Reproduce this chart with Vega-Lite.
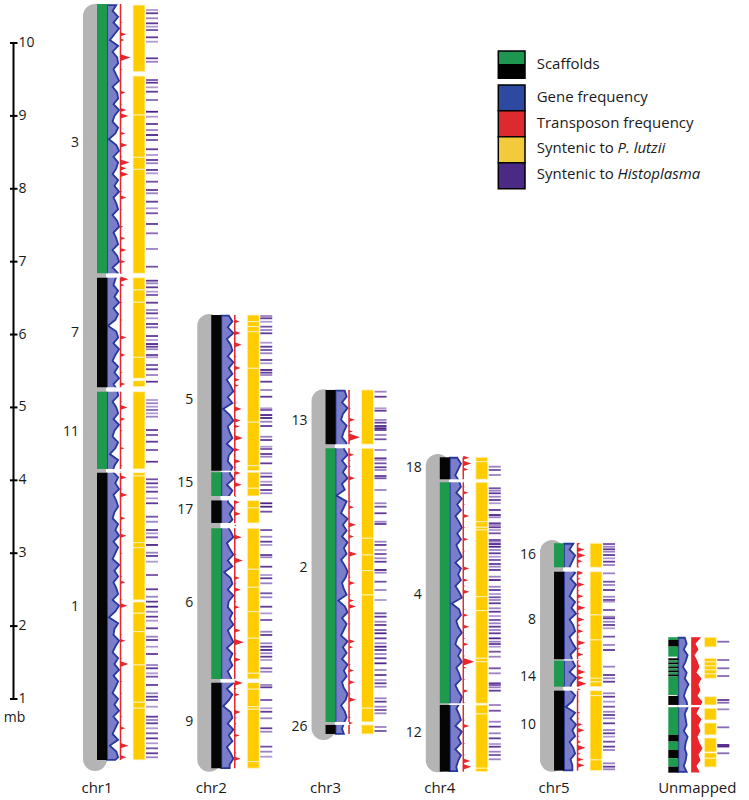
{
"$schema":"https://vega.github.io/schema/vega-lite/v6.json",
"width":749,"height":800,"padding":0,"autosize":"none","background":"white",
"config":{"view":{"stroke":null},"font":"Open Sans"},
"datasets":{
"gray":[{"c":"chr1","y":10.37,"y2":0.177},{"c":"chr2","y":6.117,"y2":0.167},{"c":"chr3","y":5.084,"y2":0.602},{"c":"chr4","y":4.197,"y2":0.159},{"c":"chr5","y":3.017,"y2":0.167}],
"scaf":[
{"c":"chr1","n":"3","y":10.535,"y2":6.84,"p":"A"},{"c":"chr1","n":"7","y":6.78,"y2":5.277,"p":"B"},{"c":"chr1","n":"11","y":5.216,"y2":4.156,"p":"A"},{"c":"chr1","n":"1","y":4.105,"y2":0.164,"p":"B"},
{"c":"chr2","n":"5","y":6.268,"y2":4.132,"p":"B"},{"c":"chr2","n":"15","y":4.111,"y2":3.785,"p":"A"},{"c":"chr2","n":"17","y":3.724,"y2":3.415,"p":"B"},{"c":"chr2","n":"6","y":3.342,"y2":1.275,"p":"A"},{"c":"chr2","n":"9","y":1.224,"y2":0.05,"p":"B"},
{"c":"chr3","n":"13","y":5.24,"y2":4.495,"p":"B"},{"c":"chr3","n":"2","y":4.44,"y2":0.685,"p":"A"},{"c":"chr3","n":"26","y":0.644,"y2":0.52,"p":"B"},
{"c":"chr4","n":"18","y":4.316,"y2":4.014,"p":"B"},{"c":"chr4","n":"4","y":3.973,"y2":0.941,"p":"A"},{"c":"chr4","n":"12","y":0.918,"y2":0.003,"p":"B"},
{"c":"chr5","n":"16","y":3.137,"y2":2.807,"p":"A"},{"c":"chr5","n":"8","y":2.747,"y2":1.545,"p":"B"},{"c":"chr5","n":"14","y":1.526,"y2":1.169,"p":"A"},{"c":"chr5","n":"10","y":1.114,"y2":0.017,"p":"B"},
{"c":"Unmapped","n":"u1","y":1.847,"y2":1.81,"p":"A"},{"c":"Unmapped","n":"u2","y":1.81,"y2":1.718,"p":"B"},{"c":"Unmapped","n":"u3","y":1.718,"y2":1.581,"p":"A"},{"c":"Unmapped","n":"u4","y":1.559,"y2":1.529,"p":"B"},{"c":"Unmapped","n":"u5","y":1.529,"y2":1.501,"p":"A"},{"c":"Unmapped","n":"u6","y":1.501,"y2":1.474,"p":"B"},{"c":"Unmapped","n":"u7","y":1.474,"y2":1.446,"p":"A"},{"c":"Unmapped","n":"u8","y":1.446,"y2":1.419,"p":"B"},{"c":"Unmapped","n":"u9","y":1.419,"y2":1.392,"p":"A"},{"c":"Unmapped","n":"u10","y":1.392,"y2":1.364,"p":"B"},{"c":"Unmapped","n":"u11","y":1.364,"y2":1.337,"p":"A"},{"c":"Unmapped","n":"u12","y":1.337,"y2":1.309,"p":"B"},{"c":"Unmapped","n":"u13","y":1.309,"y2":1.055,"p":"A"},{"c":"Unmapped","n":"u14","y":1.042,"y2":0.918,"p":"B"},{"c":"Unmapped","n":"u15","y":0.887,"y2":0.507,"p":"A"},{"c":"Unmapped","n":"u16","y":0.507,"y2":0.415,"p":"B"},{"c":"Unmapped","n":"u17","y":0.415,"y2":0.301,"p":"A"},{"c":"Unmapped","n":"u18","y":0.301,"y2":0.187,"p":"B"},{"c":"Unmapped","n":"u19","y":0.187,"y2":0.072,"p":"A"},{"c":"Unmapped","n":"u20","y":0.072,"y2":-0.011,"p":"B"}],
"labels":[
{"c":"chr1","n":"3","y":8.628},{"c":"chr1","n":"7","y":6.022},{"c":"chr1","n":"11","y":4.668},{"c":"chr1","n":"1","y":2.263},
{"c":"chr2","n":"5","y":5.102},{"c":"chr2","n":"15","y":3.964},{"c":"chr2","n":"17","y":3.593},{"c":"chr2","n":"6","y":2.311},{"c":"chr2","n":"9","y":0.685},
{"c":"chr3","n":"13","y":4.814},{"c":"chr3","n":"2","y":2.794},{"c":"chr3","n":"26","y":0.616},
{"c":"chr4","n":"18","y":4.165},{"c":"chr4","n":"4","y":2.427},{"c":"chr4","n":"12","y":0.53},
{"c":"chr5","n":"16","y":2.976},{"c":"chr5","n":"8","y":2.084},{"c":"chr5","n":"14","y":1.306},{"c":"chr5","n":"10","y":0.644}],
"gaps":[
{"c":"chr1","y":6.84,"y2":6.78},{"c":"chr1","y":5.277,"y2":5.216},{"c":"chr1","y":4.156,"y2":4.105},
{"c":"chr2","y":4.132,"y2":4.111},{"c":"chr2","y":3.785,"y2":3.724},{"c":"chr2","y":3.415,"y2":3.342},{"c":"chr2","y":1.275,"y2":1.224},
{"c":"chr3","y":4.495,"y2":4.44},{"c":"chr3","y":0.685,"y2":0.644},
{"c":"chr4","y":4.014,"y2":3.973},{"c":"chr4","y":0.941,"y2":0.918},
{"c":"chr5","y":2.807,"y2":2.747},{"c":"chr5","y":1.545,"y2":1.526},{"c":"chr5","y":1.169,"y2":1.114},
{"c":"Unmapped","y":0.918,"y2":0.887}],
"syn":[
{"c":"chr1","y":10.521,"y2":9.606},{"c":"chr1","y":9.547,"y2":9.012},{"c":"chr1","y":9.012,"y2":8.432},{"c":"chr1","y":8.432,"y2":8.267},{"c":"chr1","y":8.267,"y2":6.84},{"c":"chr1","y":6.78,"y2":6.612},{"c":"chr1","y":6.612,"y2":6.443},{"c":"chr1","y":6.443,"y2":5.688},{"c":"chr1","y":5.688,"y2":5.4},{"c":"chr1","y":5.367,"y2":5.285},{"c":"chr1","y":5.216,"y2":4.156},{"c":"chr1","y":4.105,"y2":4.06},{"c":"chr1","y":4.06,"y2":3.145},{"c":"chr1","y":3.145,"y2":3.076},{"c":"chr1","y":3.076,"y2":2.359},{"c":"chr1","y":2.331,"y2":2.176},{"c":"chr1","y":2.176,"y2":1.924},{"c":"chr1","y":1.924,"y2":1.467},{"c":"chr1","y":1.467,"y2":0.955},{"c":"chr1","y":0.955,"y2":0.873},{"c":"chr1","y":0.873,"y2":0.164},
{"c":"chr2","y":6.268,"y2":6.177},{"c":"chr2","y":6.177,"y2":6.108},{"c":"chr2","y":6.108,"y2":6.039},{"c":"chr2","y":6.039,"y2":5.537},{"c":"chr2","y":5.537,"y2":4.797},{"c":"chr2","y":4.797,"y2":4.201},{"c":"chr2","y":4.201,"y2":4.132},{"c":"chr2","y":4.111,"y2":3.891},{"c":"chr2","y":3.891,"y2":3.785},{"c":"chr2","y":3.724,"y2":3.621},{"c":"chr2","y":3.621,"y2":3.415},{"c":"chr2","y":3.342,"y2":2.78},{"c":"chr2","y":2.78,"y2":2.533},{"c":"chr2","y":2.533,"y2":2.198},{"c":"chr2","y":2.198,"y2":1.833},{"c":"chr2","y":1.833,"y2":1.353},{"c":"chr2","y":1.353,"y2":1.275},{"c":"chr2","y":1.224,"y2":1.134},{"c":"chr2","y":1.134,"y2":0.895},{"c":"chr2","y":0.895,"y2":0.859},{"c":"chr2","y":0.859,"y2":0.14},{"c":"chr2","y":0.14,"y2":0.05},
{"c":"chr3","y":5.24,"y2":4.495},{"c":"chr3","y":4.44,"y2":3.205},{"c":"chr3","y":3.205,"y2":2.976},{"c":"chr3","y":2.976,"y2":2.761},{"c":"chr3","y":2.761,"y2":2.427},{"c":"chr3","y":2.427,"y2":0.873},{"c":"chr3","y":0.873,"y2":0.685},{"c":"chr3","y":0.644,"y2":0.52},
{"c":"chr4","y":4.316,"y2":4.256},{"c":"chr4","y":4.256,"y2":4.014},{"c":"chr4","y":3.973,"y2":3.433},{"c":"chr4","y":3.433,"y2":3.356},{"c":"chr4","y":3.356,"y2":3.319},{"c":"chr4","y":3.319,"y2":2.404},{"c":"chr4","y":2.404,"y2":2.212},{"c":"chr4","y":2.212,"y2":1.559},{"c":"chr4","y":1.559,"y2":1.512},{"c":"chr4","y":1.512,"y2":0.941},{"c":"chr4","y":0.918,"y2":0.795},{"c":"chr4","y":0.795,"y2":0.05},{"c":"chr4","y":0.05,"y2":0.003},
{"c":"chr5","y":3.137,"y2":2.807},{"c":"chr5","y":2.747,"y2":2.153},{"c":"chr5","y":2.153,"y2":1.81},{"c":"chr5","y":1.81,"y2":1.284},{"c":"chr5","y":1.284,"y2":1.234},{"c":"chr5","y":1.234,"y2":1.169},{"c":"chr5","y":1.114,"y2":1.046},{"c":"chr5","y":1.046,"y2":0.164},{"c":"chr5","y":0.164,"y2":0.017},
{"c":"Unmapped","y":1.847,"y2":1.714},{"c":"Unmapped","y":1.559,"y2":1.508},{"c":"Unmapped","y":1.508,"y2":1.453},{"c":"Unmapped","y":1.453,"y2":1.398},{"c":"Unmapped","y":1.398,"y2":1.343},{"c":"Unmapped","y":1.343,"y2":1.284},{"c":"Unmapped","y":1.032,"y2":0.918},{"c":"Unmapped","y":0.873,"y2":0.712},{"c":"Unmapped","y":0.671,"y2":0.507},{"c":"Unmapped","y":0.465,"y2":0.273},{"c":"Unmapped","y":0.26,"y2":0.187},{"c":"Unmapped","y":0.187,"y2":0.067}],
"hist":[
{"c":"chr1","y":10.453,"s":0.5},{"c":"chr1","y":10.408,"s":0.9},{"c":"chr1","y":10.339,"s":0.6},{"c":"chr1","y":10.27,"s":0.9},{"c":"chr1","y":10.224,"s":0.5},{"c":"chr1","y":10.178,"s":0.8},{"c":"chr1","y":10.078,"s":0.9},{"c":"chr1","y":10.018,"s":0.5},{"c":"chr1","y":9.79,"s":0.9},{"c":"chr1","y":9.743,"s":0.6},{"c":"chr1","y":9.492,"s":0.8},{"c":"chr1","y":9.455,"s":0.9},{"c":"chr1","y":9.392,"s":0.5},{"c":"chr1","y":9.332,"s":0.9},{"c":"chr1","y":9.218,"s":0.7},{"c":"chr1","y":9.057,"s":1},{"c":"chr1","y":8.989,"s":0.5},{"c":"chr1","y":8.889,"s":0.9},{"c":"chr1","y":8.806,"s":0.6},{"c":"chr1","y":8.738,"s":1},{"c":"chr1","y":8.669,"s":0.8},{"c":"chr1","y":8.542,"s":0.9},{"c":"chr1","y":8.463,"s":0.5},{"c":"chr1","y":8.395,"s":0.9},{"c":"chr1","y":8.35,"s":0.6},{"c":"chr1","y":8.258,"s":0.9},{"c":"chr1","y":8.212,"s":0.5},{"c":"chr1","y":8.097,"s":0.8},{"c":"chr1","y":7.983,"s":0.9},{"c":"chr1","y":7.938,"s":0.6},{"c":"chr1","y":7.823,"s":0.9},{"c":"chr1","y":7.732,"s":0.5},{"c":"chr1","y":7.664,"s":0.8},{"c":"chr1","y":7.517,"s":0.9},{"c":"chr1","y":7.389,"s":0.7},{"c":"chr1","y":7.174,"s":0.6},{"c":"chr1","y":6.931,"s":0.8},{"c":"chr1","y":6.739,"s":0.9},{"c":"chr1","y":6.703,"s":0.6},{"c":"chr1","y":6.648,"s":0.9},{"c":"chr1","y":6.588,"s":0.5},{"c":"chr1","y":6.543,"s":0.8},{"c":"chr1","y":6.437,"s":0.9},{"c":"chr1","y":6.337,"s":0.6},{"c":"chr1","y":6.291,"s":0.9},{"c":"chr1","y":6.223,"s":0.5},{"c":"chr1","y":6.145,"s":0.9},{"c":"chr1","y":6.099,"s":0.7},{"c":"chr1","y":5.98,"s":0.9},{"c":"chr1","y":5.925,"s":0.5},{"c":"chr1","y":5.87,"s":1},{"c":"chr1","y":5.833,"s":0.9},{"c":"chr1","y":5.798,"s":0.6},{"c":"chr1","y":5.719,"s":0.9},{"c":"chr1","y":5.688,"s":0.5},{"c":"chr1","y":5.582,"s":0.8},{"c":"chr1","y":5.523,"s":0.9},{"c":"chr1","y":5.445,"s":0.6},{"c":"chr1","y":5.353,"s":0.9},{"c":"chr1","y":5.102,"s":0.5},{"c":"chr1","y":5.057,"s":0.6},{"c":"chr1","y":5.01,"s":0.5},{"c":"chr1","y":4.965,"s":0.7},{"c":"chr1","y":4.919,"s":0.5},{"c":"chr1","y":4.873,"s":0.6},{"c":"chr1","y":4.69,"s":0.9},{"c":"chr1","y":4.622,"s":0.8},{"c":"chr1","y":4.53,"s":0.9},{"c":"chr1","y":4.416,"s":0.8},{"c":"chr1","y":4.255,"s":0.9},{"c":"chr1","y":4.014,"s":0.8},{"c":"chr1","y":3.959,"s":0.9},{"c":"chr1","y":3.904,"s":0.6},{"c":"chr1","y":3.844,"s":0.9},{"c":"chr1","y":3.753,"s":0.5},{"c":"chr1","y":3.685,"s":0.9},{"c":"chr1","y":3.501,"s":0.8},{"c":"chr1","y":3.432,"s":0.6},{"c":"chr1","y":3.318,"s":0.9},{"c":"chr1","y":3.273,"s":0.5},{"c":"chr1","y":3.218,"s":0.8},{"c":"chr1","y":3.113,"s":1},{"c":"chr1","y":3.007,"s":0.6},{"c":"chr1","y":2.962,"s":0.9},{"c":"chr1","y":2.884,"s":0.5},{"c":"chr1","y":2.701,"s":0.8},{"c":"chr1","y":2.505,"s":0.9},{"c":"chr1","y":2.403,"s":0.6},{"c":"chr1","y":2.335,"s":0.9},{"c":"chr1","y":2.266,"s":1},{"c":"chr1","y":2.197,"s":0.6},{"c":"chr1","y":2.129,"s":0.9},{"c":"chr1","y":2.074,"s":0.5},{"c":"chr1","y":1.97,"s":0.9},{"c":"chr1","y":1.855,"s":0.6},{"c":"chr1","y":1.809,"s":0.9},{"c":"chr1","y":1.717,"s":0.5},{"c":"chr1","y":1.617,"s":0.9},{"c":"chr1","y":1.466,"s":0.6},{"c":"chr1","y":1.421,"s":0.9},{"c":"chr1","y":1.352,"s":0.5},{"c":"chr1","y":1.306,"s":0.8},{"c":"chr1","y":1.192,"s":0.9},{"c":"chr1","y":1.078,"s":0.6},{"c":"chr1","y":1.031,"s":0.9},{"c":"chr1","y":0.986,"s":0.8},{"c":"chr1","y":0.894,"s":0.5},{"c":"chr1","y":0.757,"s":0.9},{"c":"chr1","y":0.712,"s":0.6},{"c":"chr1","y":0.666,"s":0.9},{"c":"chr1","y":0.598,"s":0.5},{"c":"chr1","y":0.529,"s":0.8},{"c":"chr1","y":0.46,"s":0.9},{"c":"chr1","y":0.392,"s":0.5},{"c":"chr1","y":0.323,"s":0.8},{"c":"chr1","y":0.255,"s":0.9},{"c":"chr1","y":0.2,"s":0.6},
{"c":"chr2","y":6.254,"s":0.6},{"c":"chr2","y":6.223,"s":0.9},{"c":"chr2","y":6.176,"s":0.5},{"c":"chr2","y":6.108,"s":0.8},{"c":"chr2","y":6.062,"s":0.6},{"c":"chr2","y":6.017,"s":0.9},{"c":"chr2","y":5.888,"s":0.5},{"c":"chr2","y":5.833,"s":0.9},{"c":"chr2","y":5.788,"s":0.8},{"c":"chr2","y":5.743,"s":0.6},{"c":"chr2","y":5.651,"s":0.9},{"c":"chr2","y":5.605,"s":0.5},{"c":"chr2","y":5.514,"s":1},{"c":"chr2","y":5.477,"s":0.9},{"c":"chr2","y":5.445,"s":0.6},{"c":"chr2","y":5.353,"s":0.9},{"c":"chr2","y":5.239,"s":0.6},{"c":"chr2","y":5.147,"s":0.9},{"c":"chr2","y":4.988,"s":0.5},{"c":"chr2","y":4.965,"s":0.8},{"c":"chr2","y":4.896,"s":1},{"c":"chr2","y":4.855,"s":1},{"c":"chr2","y":4.804,"s":0.6},{"c":"chr2","y":4.745,"s":0.9},{"c":"chr2","y":4.598,"s":0.6},{"c":"chr2","y":4.553,"s":0.9},{"c":"chr2","y":4.461,"s":0.5},{"c":"chr2","y":4.43,"s":0.8},{"c":"chr2","y":4.361,"s":0.9},{"c":"chr2","y":4.324,"s":0.6},{"c":"chr2","y":4.233,"s":0.9},{"c":"chr2","y":4.096,"s":0.6},{"c":"chr2","y":4.05,"s":0.9},{"c":"chr2","y":3.981,"s":0.5},{"c":"chr2","y":3.936,"s":0.8},{"c":"chr2","y":3.867,"s":0.9},{"c":"chr2","y":3.822,"s":0.6},{"c":"chr2","y":3.685,"s":1},{"c":"chr2","y":3.638,"s":1},{"c":"chr2","y":3.57,"s":0.8},{"c":"chr2","y":3.318,"s":0.8},{"c":"chr2","y":3.226,"s":0.6},{"c":"chr2","y":3.158,"s":0.9},{"c":"chr2","y":3.113,"s":0.5},{"c":"chr2","y":2.975,"s":0.9},{"c":"chr2","y":2.944,"s":0.6},{"c":"chr2","y":2.815,"s":0.9},{"c":"chr2","y":2.701,"s":0.5},{"c":"chr2","y":2.656,"s":0.9},{"c":"chr2","y":2.587,"s":0.6},{"c":"chr2","y":2.45,"s":0.8},{"c":"chr2","y":2.395,"s":0.6},{"c":"chr2","y":2.266,"s":0.9},{"c":"chr2","y":2.175,"s":0.5},{"c":"chr2","y":2.084,"s":0.8},{"c":"chr2","y":1.923,"s":0.6},{"c":"chr2","y":1.878,"s":0.9},{"c":"chr2","y":1.764,"s":0.6},{"c":"chr2","y":1.717,"s":0.9},{"c":"chr2","y":1.672,"s":1},{"c":"chr2","y":1.627,"s":0.6},{"c":"chr2","y":1.58,"s":0.9},{"c":"chr2","y":1.535,"s":0.5},{"c":"chr2","y":1.421,"s":0.8},{"c":"chr2","y":1.374,"s":0.6},{"c":"chr2","y":1.192,"s":0.6},{"c":"chr2","y":1.16,"s":0.9},{"c":"chr2","y":0.986,"s":0.8},{"c":"chr2","y":0.872,"s":0.5},{"c":"chr2","y":0.825,"s":0.9},{"c":"chr2","y":0.735,"s":0.6},{"c":"chr2","y":0.598,"s":0.9},{"c":"chr2","y":0.551,"s":0.6},{"c":"chr2","y":0.346,"s":0.8},{"c":"chr2","y":0.277,"s":0.6},{"c":"chr2","y":0.208,"s":0.5},
{"c":"chr3","y":5.216,"s":0.6},{"c":"chr3","y":5.147,"s":0.9},{"c":"chr3","y":4.988,"s":0.5},{"c":"chr3","y":4.955,"s":0.9},{"c":"chr3","y":4.828,"s":0.6},{"c":"chr3","y":4.791,"s":0.9},{"c":"chr3","y":4.745,"s":1},{"c":"chr3","y":4.714,"s":1},{"c":"chr3","y":4.69,"s":0.9},{"c":"chr3","y":4.622,"s":0.6},{"c":"chr3","y":4.563,"s":0.8},{"c":"chr3","y":4.416,"s":0.6},{"c":"chr3","y":4.302,"s":0.9},{"c":"chr3","y":4.279,"s":0.5},{"c":"chr3","y":4.233,"s":0.8},{"c":"chr3","y":4.179,"s":0.9},{"c":"chr3","y":4.142,"s":0.6},{"c":"chr3","y":4.059,"s":0.9},{"c":"chr3","y":4.028,"s":0.8},{"c":"chr3","y":3.867,"s":0.6},{"c":"chr3","y":3.685,"s":0.6},{"c":"chr3","y":3.638,"s":0.8},{"c":"chr3","y":3.548,"s":0.9},{"c":"chr3","y":3.432,"s":0.6},{"c":"chr3","y":3.401,"s":0.9},{"c":"chr3","y":3.158,"s":0.6},{"c":"chr3","y":3.113,"s":0.9},{"c":"chr3","y":3.044,"s":0.5},{"c":"chr3","y":2.989,"s":0.8},{"c":"chr3","y":2.93,"s":0.6},{"c":"chr3","y":2.883,"s":0.9},{"c":"chr3","y":2.77,"s":1},{"c":"chr3","y":2.733,"s":0.6},{"c":"chr3","y":2.609,"s":0.8},{"c":"chr3","y":2.495,"s":0.6},{"c":"chr3","y":2.358,"s":0.5},{"c":"chr3","y":2.175,"s":0.8},{"c":"chr3","y":2.129,"s":0.9},{"c":"chr3","y":2.06,"s":0.6},{"c":"chr3","y":2.015,"s":0.9},{"c":"chr3","y":1.946,"s":0.8},{"c":"chr3","y":1.901,"s":1},{"c":"chr3","y":1.832,"s":0.9},{"c":"chr3","y":1.764,"s":0.6},{"c":"chr3","y":1.717,"s":1},{"c":"chr3","y":1.672,"s":0.9},{"c":"chr3","y":1.617,"s":0.6},{"c":"chr3","y":1.558,"s":0.9},{"c":"chr3","y":1.489,"s":1},{"c":"chr3","y":1.398,"s":0.6},{"c":"chr3","y":1.329,"s":0.9},{"c":"chr3","y":1.26,"s":0.5},{"c":"chr3","y":1.215,"s":0.9},{"c":"chr3","y":1.168,"s":0.6},{"c":"chr3","y":1.009,"s":0.6},{"c":"chr3","y":0.963,"s":0.9},{"c":"chr3","y":0.894,"s":0.6},{"c":"chr3","y":0.849,"s":0.8},{"c":"chr3","y":0.803,"s":0.6},{"c":"chr3","y":0.616,"s":0.6},{"c":"chr3","y":0.561,"s":0.8},
{"c":"chr4","y":4.187,"s":0.6},{"c":"chr4","y":4.142,"s":0.8},{"c":"chr4","y":4.073,"s":0.6},{"c":"chr4","y":3.891,"s":0.8},{"c":"chr4","y":3.858,"s":0.6},{"c":"chr4","y":3.822,"s":0.9},{"c":"chr4","y":3.775,"s":0.6},{"c":"chr4","y":3.73,"s":0.9},{"c":"chr4","y":3.685,"s":0.5},{"c":"chr4","y":3.593,"s":0.9},{"c":"chr4","y":3.524,"s":1},{"c":"chr4","y":3.493,"s":0.6},{"c":"chr4","y":3.41,"s":0.9},{"c":"chr4","y":3.387,"s":0.6},{"c":"chr4","y":3.356,"s":0.9},{"c":"chr4","y":3.318,"s":0.5},{"c":"chr4","y":3.273,"s":0.8},{"c":"chr4","y":3.181,"s":0.9},{"c":"chr4","y":3.158,"s":0.6},{"c":"chr4","y":3.126,"s":1},{"c":"chr4","y":3.089,"s":1},{"c":"chr4","y":3.044,"s":0.6},{"c":"chr4","y":2.999,"s":0.9},{"c":"chr4","y":2.952,"s":0.5},{"c":"chr4","y":2.907,"s":0.8},{"c":"chr4","y":2.852,"s":0.9},{"c":"chr4","y":2.815,"s":0.6},{"c":"chr4","y":2.77,"s":0.9},{"c":"chr4","y":2.678,"s":0.6},{"c":"chr4","y":2.632,"s":1},{"c":"chr4","y":2.54,"s":0.6},{"c":"chr4","y":2.495,"s":0.9},{"c":"chr4","y":2.44,"s":0.5},{"c":"chr4","y":2.395,"s":0.8},{"c":"chr4","y":2.358,"s":0.6},{"c":"chr4","y":2.313,"s":0.9},{"c":"chr4","y":2.244,"s":0.6},{"c":"chr4","y":2.197,"s":0.9},{"c":"chr4","y":2.138,"s":0.5},{"c":"chr4","y":2.084,"s":0.8},{"c":"chr4","y":2.038,"s":0.6},{"c":"chr4","y":1.992,"s":0.9},{"c":"chr4","y":1.946,"s":0.6},{"c":"chr4","y":1.901,"s":0.9},{"c":"chr4","y":1.832,"s":1},{"c":"chr4","y":1.786,"s":0.6},{"c":"chr4","y":1.754,"s":0.9},{"c":"chr4","y":1.717,"s":0.5},{"c":"chr4","y":1.649,"s":0.8},{"c":"chr4","y":1.58,"s":0.6},{"c":"chr4","y":1.421,"s":0.8},{"c":"chr4","y":1.352,"s":0.6},{"c":"chr4","y":1.215,"s":0.9},{"c":"chr4","y":1.192,"s":0.8},{"c":"chr4","y":1.16,"s":0.6},{"c":"chr4","y":1.114,"s":0.9},{"c":"chr4","y":0.917,"s":0.6},{"c":"chr4","y":0.839,"s":0.8},{"c":"chr4","y":0.688,"s":0.6},{"c":"chr4","y":0.62,"s":0.9},{"c":"chr4","y":0.529,"s":0.6},{"c":"chr4","y":0.46,"s":0.9},{"c":"chr4","y":0.382,"s":0.5},{"c":"chr4","y":0.345,"s":0.9},{"c":"chr4","y":0.277,"s":0.6},{"c":"chr4","y":0.231,"s":0.8},{"c":"chr4","y":0.172,"s":0.6},
{"c":"chr5","y":3.126,"s":0.8},{"c":"chr5","y":3.089,"s":0.6},{"c":"chr5","y":3.054,"s":0.9},{"c":"chr5","y":3.021,"s":0.6},{"c":"chr5","y":2.975,"s":0.9},{"c":"chr5","y":2.93,"s":0.5},{"c":"chr5","y":2.884,"s":0.9},{"c":"chr5","y":2.838,"s":0.6},{"c":"chr5","y":2.724,"s":0.6},{"c":"chr5","y":2.609,"s":0.8},{"c":"chr5","y":2.564,"s":0.6},{"c":"chr5","y":2.495,"s":0.9},{"c":"chr5","y":2.403,"s":0.6},{"c":"chr5","y":2.358,"s":0.9},{"c":"chr5","y":2.335,"s":0.5},{"c":"chr5","y":2.221,"s":0.8},{"c":"chr5","y":2.129,"s":0.6},{"c":"chr5","y":2.107,"s":0.9},{"c":"chr5","y":2.06,"s":0.6},{"c":"chr5","y":2.015,"s":0.9},{"c":"chr5","y":1.97,"s":0.5},{"c":"chr5","y":1.855,"s":0.8},{"c":"chr5","y":1.741,"s":0.6},{"c":"chr5","y":1.672,"s":0.9},{"c":"chr5","y":1.443,"s":0.6},{"c":"chr5","y":1.329,"s":0.9},{"c":"chr5","y":1.284,"s":0.6},{"c":"chr5","y":1.237,"s":0.9},{"c":"chr5","y":1.078,"s":0.6},{"c":"chr5","y":1.031,"s":0.9},{"c":"chr5","y":0.963,"s":0.5},{"c":"chr5","y":0.894,"s":0.8},{"c":"chr5","y":0.825,"s":0.6},{"c":"chr5","y":0.78,"s":0.9},{"c":"chr5","y":0.735,"s":0.6},{"c":"chr5","y":0.666,"s":0.9},{"c":"chr5","y":0.574,"s":0.6},{"c":"chr5","y":0.529,"s":0.9},{"c":"chr5","y":0.483,"s":0.5},{"c":"chr5","y":0.414,"s":0.8},{"c":"chr5","y":0.346,"s":0.9},{"c":"chr5","y":0.3,"s":0.6},{"c":"chr5","y":0.117,"s":0.6},{"c":"chr5","y":0.071,"s":0.9},{"c":"chr5","y":0.035,"s":0.6},
{"c":"Unmapped","y":1.786,"s":0.7},{"c":"Unmapped","y":1.535,"s":0.7},{"c":"Unmapped","y":1.421,"s":0.7},{"c":"Unmapped","y":1.315,"s":0.7},{"c":"Unmapped","y":0.986,"s":0.9},{"c":"Unmapped","y":0.949,"s":0.7},{"c":"Unmapped","y":0.858,"s":0.6},{"c":"Unmapped","y":0.611,"s":0.7},{"c":"Unmapped","y":0.369,"s":1},{"c":"Unmapped","y":0.348,"s":1},{"c":"Unmapped","y":0.255,"s":0.7}],
"freq":[
{"c":"chr1","y":10.52,"g":10,"t":1},{"c":"chr1","y":10.44,"g":6,"t":0},{"c":"chr1","y":10.36,"g":12,"t":1},{"c":"chr1","y":10.28,"g":7,"t":2},{"c":"chr1","y":10.2,"g":13,"t":0},{"c":"chr1","y":10.12,"g":8,"t":6},{"c":"chr1","y":10.04,"g":3,"t":4},{"c":"chr1","y":9.96,"g":12,"t":1},{"c":"chr1","y":9.88,"g":6,"t":0},{"c":"chr1","y":9.8,"g":11,"t":10},
{"c":"chr1","y":9.72,"g":12,"t":1},{"c":"chr1","y":9.64,"g":7,"t":2},{"c":"chr1","y":9.56,"g":10,"t":1},{"c":"chr1","y":9.48,"g":13,"t":0},{"c":"chr1","y":9.4,"g":6,"t":1},{"c":"chr1","y":9.32,"g":11,"t":5},{"c":"chr1","y":9.24,"g":12,"t":0},{"c":"chr1","y":9.16,"g":7,"t":2},{"c":"chr1","y":9.08,"g":13,"t":6},{"c":"chr1","y":9.0,"g":8,"t":8},
{"c":"chr1","y":8.92,"g":6,"t":0},{"c":"chr1","y":8.84,"g":12,"t":1},{"c":"chr1","y":8.76,"g":9,"t":5},{"c":"chr1","y":8.68,"g":2,"t":1},{"c":"chr1","y":8.6,"g":10,"t":7},{"c":"chr1","y":8.52,"g":13,"t":0},{"c":"chr1","y":8.44,"g":7,"t":2},{"c":"chr1","y":8.36,"g":12,"t":9},{"c":"chr1","y":8.28,"g":10,"t":6},{"c":"chr1","y":8.2,"g":6,"t":8},
{"c":"chr1","y":8.12,"g":12,"t":1},{"c":"chr1","y":8.04,"g":8,"t":0},{"c":"chr1","y":7.96,"g":13,"t":2},{"c":"chr1","y":7.88,"g":7,"t":6},{"c":"chr1","y":7.8,"g":10,"t":1},{"c":"chr1","y":7.72,"g":12,"t":2},{"c":"chr1","y":7.64,"g":6,"t":0},{"c":"chr1","y":7.56,"g":11,"t":1},{"c":"chr1","y":7.48,"g":13,"t":3},{"c":"chr1","y":7.4,"g":7,"t":0},
{"c":"chr1","y":7.32,"g":10,"t":5},{"c":"chr1","y":7.24,"g":12,"t":1},{"c":"chr1","y":7.16,"g":6,"t":6},{"c":"chr1","y":7.08,"g":11,"t":0},{"c":"chr1","y":7.0,"g":13,"t":5},{"c":"chr1","y":6.92,"g":6,"t":1},{"c":"chr1","y":6.84,"g":12,"t":2},{"c":"chr1","y":6.76,"g":9,"t":8},{"c":"chr1","y":6.68,"g":7,"t":4},{"c":"chr1","y":6.6,"g":12,"t":0},
{"c":"chr1","y":6.52,"g":8,"t":1},{"c":"chr1","y":6.44,"g":13,"t":2},{"c":"chr1","y":6.36,"g":7,"t":1},{"c":"chr1","y":6.28,"g":12,"t":0},{"c":"chr1","y":6.2,"g":9,"t":2},{"c":"chr1","y":6.12,"g":1,"t":1},{"c":"chr1","y":6.04,"g":10,"t":0},{"c":"chr1","y":5.96,"g":12,"t":6},{"c":"chr1","y":5.88,"g":7,"t":1},{"c":"chr1","y":5.8,"g":13,"t":0},
{"c":"chr1","y":5.72,"g":9,"t":5},{"c":"chr1","y":5.64,"g":6,"t":1},{"c":"chr1","y":5.56,"g":12,"t":0},{"c":"chr1","y":5.48,"g":8,"t":2},{"c":"chr1","y":5.4,"g":13,"t":1},{"c":"chr1","y":5.32,"g":7,"t":5},{"c":"chr1","y":5.24,"g":11,"t":0},{"c":"chr1","y":5.16,"g":12,"t":1},{"c":"chr1","y":5.08,"g":6,"t":2},{"c":"chr1","y":5.0,"g":10,"t":7},
{"c":"chr1","y":4.92,"g":12,"t":0},{"c":"chr1","y":4.84,"g":7,"t":5},{"c":"chr1","y":4.76,"g":13,"t":1},{"c":"chr1","y":4.68,"g":8,"t":2},{"c":"chr1","y":4.6,"g":6,"t":0},{"c":"chr1","y":4.52,"g":12,"t":1},{"c":"chr1","y":4.44,"g":9,"t":4},{"c":"chr1","y":4.36,"g":3,"t":0},{"c":"chr1","y":4.28,"g":12,"t":1},{"c":"chr1","y":4.2,"g":8,"t":2},
{"c":"chr1","y":4.12,"g":6,"t":1},{"c":"chr1","y":4.04,"g":12,"t":6},{"c":"chr1","y":3.96,"g":9,"t":0},{"c":"chr1","y":3.88,"g":13,"t":2},{"c":"chr1","y":3.8,"g":7,"t":7},{"c":"chr1","y":3.72,"g":10,"t":1},{"c":"chr1","y":3.64,"g":12,"t":0},{"c":"chr1","y":3.56,"g":8,"t":1},{"c":"chr1","y":3.48,"g":6,"t":5},{"c":"chr1","y":3.4,"g":12,"t":0},
{"c":"chr1","y":3.32,"g":9,"t":2},{"c":"chr1","y":3.24,"g":13,"t":6},{"c":"chr1","y":3.16,"g":7,"t":1},{"c":"chr1","y":3.08,"g":12,"t":0},{"c":"chr1","y":3.0,"g":9,"t":2},{"c":"chr1","y":2.92,"g":6,"t":1},{"c":"chr1","y":2.84,"g":13,"t":0},{"c":"chr1","y":2.76,"g":8,"t":1},{"c":"chr1","y":2.68,"g":12,"t":2},{"c":"chr1","y":2.6,"g":7,"t":5},
{"c":"chr1","y":2.52,"g":10,"t":0},{"c":"chr1","y":2.44,"g":12,"t":1},{"c":"chr1","y":2.36,"g":6,"t":2},{"c":"chr1","y":2.28,"g":13,"t":7},{"c":"chr1","y":2.2,"g":9,"t":0},{"c":"chr1","y":2.12,"g":2,"t":1},{"c":"chr1","y":2.04,"g":12,"t":1},{"c":"chr1","y":1.96,"g":8,"t":0},{"c":"chr1","y":1.88,"g":7,"t":2},{"c":"chr1","y":1.8,"g":13,"t":5},
{"c":"chr1","y":1.72,"g":9,"t":1},{"c":"chr1","y":1.64,"g":6,"t":0},{"c":"chr1","y":1.56,"g":12,"t":2},{"c":"chr1","y":1.48,"g":8,"t":8},{"c":"chr1","y":1.4,"g":13,"t":0},{"c":"chr1","y":1.32,"g":7,"t":1},{"c":"chr1","y":1.24,"g":12,"t":2},{"c":"chr1","y":1.16,"g":9,"t":0},{"c":"chr1","y":1.08,"g":6,"t":2},{"c":"chr1","y":1.0,"g":12,"t":1},
{"c":"chr1","y":0.92,"g":8,"t":0},{"c":"chr1","y":0.84,"g":13,"t":1},{"c":"chr1","y":0.76,"g":7,"t":2},{"c":"chr1","y":0.68,"g":12,"t":1},{"c":"chr1","y":0.6,"g":9,"t":5},{"c":"chr1","y":0.52,"g":6,"t":0},{"c":"chr1","y":0.44,"g":12,"t":1},{"c":"chr1","y":0.36,"g":3,"t":8},{"c":"chr1","y":0.28,"g":10,"t":1},{"c":"chr1","y":0.2,"g":12,"t":6},{"c":"chr1","y":0.164,"g":9,"t":0},
{"c":"chr2","y":6.26,"g":8,"t":1},{"c":"chr2","y":6.18,"g":12,"t":5},{"c":"chr2","y":6.1,"g":7,"t":0},{"c":"chr2","y":6.02,"g":13,"t":6},{"c":"chr2","y":5.94,"g":6,"t":1},{"c":"chr2","y":5.86,"g":10,"t":7},{"c":"chr2","y":5.78,"g":12,"t":0},{"c":"chr2","y":5.7,"g":7,"t":2},{"c":"chr2","y":5.62,"g":13,"t":1},{"c":"chr2","y":5.54,"g":8,"t":6},
{"c":"chr2","y":5.46,"g":12,"t":0},{"c":"chr2","y":5.38,"g":6,"t":5},{"c":"chr2","y":5.3,"g":10,"t":4},{"c":"chr2","y":5.22,"g":13,"t":1},{"c":"chr2","y":5.14,"g":7,"t":1},{"c":"chr2","y":5.06,"g":12,"t":2},{"c":"chr2","y":4.98,"g":2,"t":7},{"c":"chr2","y":4.9,"g":9,"t":0},{"c":"chr2","y":4.82,"g":13,"t":6},{"c":"chr2","y":4.74,"g":7,"t":5},
{"c":"chr2","y":4.66,"g":9,"t":1},{"c":"chr2","y":4.58,"g":12,"t":8},{"c":"chr2","y":4.5,"g":6,"t":0},{"c":"chr2","y":4.42,"g":13,"t":5},{"c":"chr2","y":4.34,"g":8,"t":1},{"c":"chr2","y":4.26,"g":7,"t":6},{"c":"chr2","y":4.18,"g":12,"t":2},{"c":"chr2","y":4.1,"g":9,"t":6},{"c":"chr2","y":4.02,"g":13,"t":0},{"c":"chr2","y":3.94,"g":6,"t":7},
{"c":"chr2","y":3.86,"g":12,"t":1},{"c":"chr2","y":3.78,"g":8,"t":2},{"c":"chr2","y":3.7,"g":7,"t":5},{"c":"chr2","y":3.62,"g":13,"t":0},{"c":"chr2","y":3.54,"g":9,"t":6},{"c":"chr2","y":3.46,"g":12,"t":1},{"c":"chr2","y":3.38,"g":6,"t":2},{"c":"chr2","y":3.3,"g":10,"t":0},{"c":"chr2","y":3.22,"g":13,"t":7},{"c":"chr2","y":3.14,"g":6,"t":1},
{"c":"chr2","y":3.06,"g":9,"t":1},{"c":"chr2","y":2.98,"g":13,"t":2},{"c":"chr2","y":2.9,"g":7,"t":8},{"c":"chr2","y":2.82,"g":12,"t":1},{"c":"chr2","y":2.74,"g":3,"t":0},{"c":"chr2","y":2.66,"g":10,"t":5},{"c":"chr2","y":2.58,"g":12,"t":2},{"c":"chr2","y":2.5,"g":7,"t":6},{"c":"chr2","y":2.42,"g":13,"t":1},{"c":"chr2","y":2.34,"g":8,"t":2},
{"c":"chr2","y":2.26,"g":7,"t":5},{"c":"chr2","y":2.18,"g":12,"t":1},{"c":"chr2","y":2.1,"g":9,"t":2},{"c":"chr2","y":2.02,"g":13,"t":0},{"c":"chr2","y":1.94,"g":7,"t":6},{"c":"chr2","y":1.86,"g":10,"t":1},{"c":"chr2","y":1.78,"g":13,"t":9},{"c":"chr2","y":1.7,"g":6,"t":0},{"c":"chr2","y":1.62,"g":12,"t":2},{"c":"chr2","y":1.54,"g":9,"t":6},
{"c":"chr2","y":1.46,"g":12,"t":1},{"c":"chr2","y":1.38,"g":7,"t":1},{"c":"chr2","y":1.3,"g":10,"t":0},{"c":"chr2","y":1.22,"g":13,"t":8},{"c":"chr2","y":1.14,"g":6,"t":2},{"c":"chr2","y":1.06,"g":12,"t":5},{"c":"chr2","y":0.98,"g":8,"t":1},{"c":"chr2","y":0.9,"g":2,"t":0},{"c":"chr2","y":0.82,"g":10,"t":6},{"c":"chr2","y":0.74,"g":12,"t":2},
{"c":"chr2","y":0.66,"g":7,"t":2},{"c":"chr2","y":0.58,"g":13,"t":1},{"c":"chr2","y":0.5,"g":8,"t":5},{"c":"chr2","y":0.42,"g":12,"t":0},{"c":"chr2","y":0.34,"g":6,"t":1},{"c":"chr2","y":0.26,"g":10,"t":2},{"c":"chr2","y":0.18,"g":13,"t":6},{"c":"chr2","y":0.1,"g":9,"t":1},{"c":"chr2","y":0.05,"g":9,"t":0},
{"c":"chr3","y":5.23,"g":10,"t":1},{"c":"chr3","y":5.15,"g":12,"t":0},{"c":"chr3","y":5.07,"g":7,"t":1},{"c":"chr3","y":4.99,"g":13,"t":2},{"c":"chr3","y":4.91,"g":8,"t":0},{"c":"chr3","y":4.83,"g":6,"t":6},{"c":"chr3","y":4.75,"g":12,"t":1},{"c":"chr3","y":4.67,"g":9,"t":4},{"c":"chr3","y":4.59,"g":7,"t":11},{"c":"chr3","y":4.51,"g":12,"t":0},
{"c":"chr3","y":4.43,"g":9,"t":1},{"c":"chr3","y":4.35,"g":13,"t":5},{"c":"chr3","y":4.27,"g":7,"t":2},{"c":"chr3","y":4.19,"g":12,"t":2},{"c":"chr3","y":4.11,"g":8,"t":0},{"c":"chr3","y":4.03,"g":13,"t":6},{"c":"chr3","y":3.95,"g":7,"t":1},{"c":"chr3","y":3.87,"g":10,"t":0},{"c":"chr3","y":3.79,"g":1,"t":1},{"c":"chr3","y":3.71,"g":12,"t":2},
{"c":"chr3","y":3.63,"g":9,"t":5},{"c":"chr3","y":3.55,"g":6,"t":0},{"c":"chr3","y":3.47,"g":13,"t":1},{"c":"chr3","y":3.39,"g":8,"t":7},{"c":"chr3","y":3.31,"g":12,"t":2},{"c":"chr3","y":3.23,"g":7,"t":5},{"c":"chr3","y":3.15,"g":13,"t":0},{"c":"chr3","y":3.07,"g":9,"t":1},{"c":"chr3","y":2.99,"g":12,"t":8},{"c":"chr3","y":2.91,"g":6,"t":1},
{"c":"chr3","y":2.83,"g":10,"t":1},{"c":"chr3","y":2.75,"g":13,"t":0},{"c":"chr3","y":2.67,"g":11,"t":2},{"c":"chr3","y":2.59,"g":7,"t":6},{"c":"chr3","y":2.51,"g":9,"t":1},{"c":"chr3","y":2.43,"g":12,"t":2},{"c":"chr3","y":2.35,"g":3,"t":5},{"c":"chr3","y":2.27,"g":10,"t":7},{"c":"chr3","y":2.19,"g":13,"t":0},{"c":"chr3","y":2.11,"g":7,"t":1},
{"c":"chr3","y":2.03,"g":12,"t":2},{"c":"chr3","y":1.95,"g":9,"t":1},{"c":"chr3","y":1.87,"g":6,"t":0},{"c":"chr3","y":1.79,"g":13,"t":6},{"c":"chr3","y":1.71,"g":8,"t":4},{"c":"chr3","y":1.63,"g":12,"t":1},{"c":"chr3","y":1.55,"g":7,"t":1},{"c":"chr3","y":1.47,"g":13,"t":2},{"c":"chr3","y":1.39,"g":9,"t":5},{"c":"chr3","y":1.31,"g":12,"t":0},
{"c":"chr3","y":1.23,"g":7,"t":6},{"c":"chr3","y":1.15,"g":9,"t":1},{"c":"chr3","y":1.07,"g":13,"t":2},{"c":"chr3","y":0.99,"g":11,"t":7},{"c":"chr3","y":0.91,"g":6,"t":1},{"c":"chr3","y":0.83,"g":10,"t":1},{"c":"chr3","y":0.75,"g":12,"t":2},{"c":"chr3","y":0.67,"g":9,"t":4},{"c":"chr3","y":0.59,"g":7,"t":1},{"c":"chr3","y":0.52,"g":9,"t":0},
{"c":"chr4","y":4.31,"g":8,"t":6},{"c":"chr4","y":4.23,"g":12,"t":8},{"c":"chr4","y":4.15,"g":9,"t":5},{"c":"chr4","y":4.07,"g":6,"t":1},{"c":"chr4","y":3.99,"g":10,"t":1},{"c":"chr4","y":3.91,"g":12,"t":2},{"c":"chr4","y":3.83,"g":7,"t":5},{"c":"chr4","y":3.75,"g":13,"t":0},{"c":"chr4","y":3.67,"g":8,"t":2},{"c":"chr4","y":3.59,"g":12,"t":1},
{"c":"chr4","y":3.51,"g":6,"t":6},{"c":"chr4","y":3.43,"g":10,"t":1},{"c":"chr4","y":3.35,"g":13,"t":2},{"c":"chr4","y":3.27,"g":8,"t":0},{"c":"chr4","y":3.19,"g":12,"t":5},{"c":"chr4","y":3.11,"g":7,"t":1},{"c":"chr4","y":3.03,"g":10,"t":2},{"c":"chr4","y":2.95,"g":13,"t":1},{"c":"chr4","y":2.87,"g":6,"t":0},{"c":"chr4","y":2.79,"g":12,"t":6},
{"c":"chr4","y":2.71,"g":9,"t":1},{"c":"chr4","y":2.63,"g":12,"t":5},{"c":"chr4","y":2.55,"g":6,"t":2},{"c":"chr4","y":2.47,"g":10,"t":6},{"c":"chr4","y":2.39,"g":13,"t":0},{"c":"chr4","y":2.31,"g":2,"t":1},{"c":"chr4","y":2.23,"g":10,"t":2},{"c":"chr4","y":2.15,"g":12,"t":5},{"c":"chr4","y":2.07,"g":7,"t":1},{"c":"chr4","y":1.99,"g":9,"t":6},
{"c":"chr4","y":1.91,"g":13,"t":0},{"c":"chr4","y":1.83,"g":8,"t":2},{"c":"chr4","y":1.75,"g":6,"t":5},{"c":"chr4","y":1.67,"g":12,"t":1},{"c":"chr4","y":1.59,"g":9,"t":2},{"c":"chr4","y":1.51,"g":13,"t":11},{"c":"chr4","y":1.43,"g":7,"t":3},{"c":"chr4","y":1.35,"g":10,"t":1},{"c":"chr4","y":1.27,"g":12,"t":2},{"c":"chr4","y":1.19,"g":6,"t":0},
{"c":"chr4","y":1.11,"g":9,"t":5},{"c":"chr4","y":1.03,"g":13,"t":1},{"c":"chr4","y":0.95,"g":11,"t":2},{"c":"chr4","y":0.87,"g":7,"t":0},{"c":"chr4","y":0.79,"g":10,"t":1},{"c":"chr4","y":0.71,"g":12,"t":2},{"c":"chr4","y":0.63,"g":6,"t":6},{"c":"chr4","y":0.55,"g":13,"t":1},{"c":"chr4","y":0.47,"g":9,"t":0},{"c":"chr4","y":0.39,"g":12,"t":2},
{"c":"chr4","y":0.31,"g":6,"t":1},{"c":"chr4","y":0.23,"g":12,"t":2},{"c":"chr4","y":0.15,"g":9,"t":7},{"c":"chr4","y":0.07,"g":7,"t":8},{"c":"chr4","y":0.01,"g":8,"t":0},
{"c":"chr5","y":3.13,"g":10,"t":3},{"c":"chr5","y":3.05,"g":6,"t":7},{"c":"chr5","y":2.97,"g":12,"t":8},{"c":"chr5","y":2.89,"g":9,"t":5},{"c":"chr5","y":2.81,"g":6,"t":2},{"c":"chr5","y":2.73,"g":12,"t":6},{"c":"chr5","y":2.65,"g":7,"t":3},{"c":"chr5","y":2.57,"g":13,"t":7},{"c":"chr5","y":2.49,"g":9,"t":2},{"c":"chr5","y":2.41,"g":6,"t":6},
{"c":"chr5","y":2.33,"g":12,"t":3},{"c":"chr5","y":2.25,"g":8,"t":8},{"c":"chr5","y":2.17,"g":13,"t":2},{"c":"chr5","y":2.09,"g":6,"t":7},{"c":"chr5","y":2.01,"g":10,"t":3},{"c":"chr5","y":1.93,"g":12,"t":6},{"c":"chr5","y":1.85,"g":6,"t":2},{"c":"chr5","y":1.77,"g":9,"t":8},{"c":"chr5","y":1.69,"g":13,"t":3},{"c":"chr5","y":1.61,"g":7,"t":6},
{"c":"chr5","y":1.53,"g":9,"t":2},{"c":"chr5","y":1.45,"g":12,"t":4},{"c":"chr5","y":1.37,"g":6,"t":8},{"c":"chr5","y":1.29,"g":13,"t":6},{"c":"chr5","y":1.21,"g":8,"t":9},{"c":"chr5","y":1.13,"g":6,"t":3},{"c":"chr5","y":1.05,"g":12,"t":1},{"c":"chr5","y":0.97,"g":9,"t":2},{"c":"chr5","y":0.89,"g":2,"t":1},{"c":"chr5","y":0.81,"g":12,"t":3},
{"c":"chr5","y":0.73,"g":7,"t":2},{"c":"chr5","y":0.65,"g":13,"t":5},{"c":"chr5","y":0.57,"g":9,"t":7},{"c":"chr5","y":0.49,"g":12,"t":2},{"c":"chr5","y":0.41,"g":6,"t":4},{"c":"chr5","y":0.33,"g":10,"t":8},{"c":"chr5","y":0.25,"g":12,"t":3},{"c":"chr5","y":0.17,"g":7,"t":6},{"c":"chr5","y":0.09,"g":9,"t":7},{"c":"chr5","y":0.02,"g":9,"t":0},
{"c":"Unmapped","y":1.84,"g":7,"t":8},{"c":"Unmapped","y":1.76,"g":9,"t":3},{"c":"Unmapped","y":1.68,"g":6,"t":6},{"c":"Unmapped","y":1.6,"g":10,"t":2},{"c":"Unmapped","y":1.52,"g":8,"t":5},{"c":"Unmapped","y":1.44,"g":5,"t":7},{"c":"Unmapped","y":1.36,"g":9,"t":4},{"c":"Unmapped","y":1.28,"g":7,"t":9},{"c":"Unmapped","y":1.2,"g":11,"t":6},{"c":"Unmapped","y":1.12,"g":8,"t":8},{"c":"Unmapped","y":1.04,"g":6,"t":5},{"c":"Unmapped","y":0.96,"g":9,"t":10},{"c":"Unmapped","y":0.88,"g":10,"t":7},{"c":"Unmapped","y":0.8,"g":7,"t":4},{"c":"Unmapped","y":0.72,"g":8,"t":9},{"c":"Unmapped","y":0.64,"g":9,"t":6},{"c":"Unmapped","y":0.56,"g":6,"t":8},{"c":"Unmapped","y":0.48,"g":10,"t":5},{"c":"Unmapped","y":0.4,"g":8,"t":7},{"c":"Unmapped","y":0.32,"g":7,"t":10},{"c":"Unmapped","y":0.24,"g":9,"t":6},{"c":"Unmapped","y":0.16,"g":8,"t":8},{"c":"Unmapped","y":0.08,"g":6,"t":4},{"c":"Unmapped","y":0.0,"g":9,"t":7}],
"scale":[{"y":1},{"y":2},{"y":3},{"y":4},{"y":5},{"y":6},{"y":7},{"y":8},{"y":9},{"y":10}],
"chrs":[{"c":"chr1"},{"c":"chr2"},{"c":"chr3"},{"c":"chr4"},{"c":"chr5"},{"c":"Unmapped"}]
},
"layer":[
{"data":{"name":"gray"},"mark":{"type":"rule","strokeWidth":24,"strokeCap":"round","color":"#b4b4b4","xOffset":-2},
 "encoding":{"x":{"field":"c","type":"nominal","axis":null,"scale":{"type":"point","domain":["chr1","chr2","chr3","chr4","chr5","Unmapped"],"range":[97,668.3],"padding":0}},
  "y":{"field":"y","type":"quantitative","axis":null,"scale":{"domain":[-0.386,10.59],"nice":false,"zero":false}},"y2":{"field":"y2"}}},

{"data":{"name":"freq"},"transform":[{"filter":"datum.c==='chr1'"}],"mark":{"type":"area","orient":"horizontal","fill":"#7a7dca","stroke":"#27389b","strokeWidth":1.8},
 "encoding":{"x":{"field":"g","type":"quantitative","axis":null,"scale":{"domain":[0,14],"range":[107,120],"nice":false,"zero":false}},"x2":{"datum":0},
  "y":{"field":"y","type":"quantitative","axis":null,"scale":{"domain":[-0.386,10.59],"nice":false,"zero":false}}}},
{"data":{"name":"freq"},"transform":[{"filter":"datum.c==='chr2'"}],"mark":{"type":"area","orient":"horizontal","fill":"#7a7dca","stroke":"#27389b","strokeWidth":1.8},
 "encoding":{"x":{"field":"g","type":"quantitative","axis":null,"scale":{"domain":[0,14],"range":[221.3,234.3],"nice":false,"zero":false}},"x2":{"datum":0},
  "y":{"field":"y","type":"quantitative","axis":null,"scale":{"domain":[-0.386,10.59],"nice":false,"zero":false}}}},
{"data":{"name":"freq"},"transform":[{"filter":"datum.c==='chr3'"}],"mark":{"type":"area","orient":"horizontal","fill":"#7a7dca","stroke":"#27389b","strokeWidth":1.8},
 "encoding":{"x":{"field":"g","type":"quantitative","axis":null,"scale":{"domain":[0,14],"range":[335.5,348.5],"nice":false,"zero":false}},"x2":{"datum":0},
  "y":{"field":"y","type":"quantitative","axis":null,"scale":{"domain":[-0.386,10.59],"nice":false,"zero":false}}}},
{"data":{"name":"freq"},"transform":[{"filter":"datum.c==='chr4'"}],"mark":{"type":"area","orient":"horizontal","fill":"#7a7dca","stroke":"#27389b","strokeWidth":1.8},
 "encoding":{"x":{"field":"g","type":"quantitative","axis":null,"scale":{"domain":[0,14],"range":[449.8,462.8],"nice":false,"zero":false}},"x2":{"datum":0},
  "y":{"field":"y","type":"quantitative","axis":null,"scale":{"domain":[-0.386,10.59],"nice":false,"zero":false}}}},
{"data":{"name":"freq"},"transform":[{"filter":"datum.c==='chr5'"}],"mark":{"type":"area","orient":"horizontal","fill":"#7a7dca","stroke":"#27389b","strokeWidth":1.8},
 "encoding":{"x":{"field":"g","type":"quantitative","axis":null,"scale":{"domain":[0,14],"range":[564,577],"nice":false,"zero":false}},"x2":{"datum":0},
  "y":{"field":"y","type":"quantitative","axis":null,"scale":{"domain":[-0.386,10.59],"nice":false,"zero":false}}}},
{"data":{"name":"freq"},"transform":[{"filter":"datum.c==='Unmapped'"}],"mark":{"type":"area","orient":"horizontal","fill":"#7a7dca","stroke":"#27389b","strokeWidth":1.8},
 "encoding":{"x":{"field":"g","type":"quantitative","axis":null,"scale":{"domain":[0,14],"range":[678.3,691.3],"nice":false,"zero":false}},"x2":{"datum":0},
  "y":{"field":"y","type":"quantitative","axis":null,"scale":{"domain":[-0.386,10.59],"nice":false,"zero":false}}}},
{"data":{"name":"freq"},"transform":[{"filter":"datum.c==='Unmapped'"}],"mark":{"type":"area","orient":"horizontal","fill":"#e8262b","stroke":"#e8262b","strokeWidth":1.2},
 "encoding":{"x":{"field":"t","type":"quantitative","axis":null,"scale":{"domain":[0,11],"range":[691.8,702.8],"nice":false,"zero":false}},"x2":{"datum":0},
  "y":{"field":"y","type":"quantitative","axis":null,"scale":{"domain":[-0.386,10.59],"nice":false,"zero":false}}}},

{"data":{"name":"gaps"},"mark":{"type":"bar","width":28,"xOffset":23,"color":"#ffffff"},
 "encoding":{"x":{"field":"c","type":"nominal","axis":null,"scale":{"type":"point","domain":["chr1","chr2","chr3","chr4","chr5","Unmapped"],"range":[97,668.3],"padding":0}},
  "y":{"field":"y","type":"quantitative","axis":null,"scale":{"domain":[-0.386,10.59],"nice":false,"zero":false}},"y2":{"field":"y2"}}},
{"data":{"name":"scaf"},"transform":[{"filter":"datum.c!=='Unmapped'"}],"mark":{"type":"rule","strokeWidth":1.5,"xOffset":23.5,"color":"#e8262b"},
 "encoding":{"x":{"field":"c","type":"nominal","axis":null,"scale":{"type":"point","domain":["chr1","chr2","chr3","chr4","chr5","Unmapped"],"range":[97,668.3],"padding":0}},
  "y":{"field":"y","type":"quantitative","axis":null,"scale":{"domain":[-0.386,10.59],"nice":false,"zero":false}},"y2":{"field":"y2"}}},
{"data":{"name":"freq"},"transform":[{"filter":"datum.c!=='Unmapped' && datum.t>0"}],"mark":{"type":"point","filled":true,"opacity":1,"strokeWidth":0,"color":"#e8262b","xOffset":23.5,"shape":"M0,-0.34L1,0L0,0.34Z"},
 "encoding":{"x":{"field":"c","type":"nominal","axis":null,"scale":{"type":"point","domain":["chr1","chr2","chr3","chr4","chr5","Unmapped"],"range":[97,668.3],"padding":0}},
  "y":{"field":"y","type":"quantitative","axis":null,"scale":{"domain":[-0.386,10.59],"nice":false,"zero":false}},
  "size":{"field":"t","type":"quantitative","legend":null,"scale":{"type":"pow","exponent":2,"domain":[0,11],"range":[0,484]}}}},
{"data":{"name":"scaf"},"mark":{"type":"bar","width":10,"xOffset":5},
 "encoding":{"x":{"field":"c","type":"nominal","axis":null,"scale":{"type":"point","domain":["chr1","chr2","chr3","chr4","chr5","Unmapped"],"range":[97,668.3],"padding":0}},
  "y":{"field":"y","type":"quantitative","axis":null,"scale":{"domain":[-0.386,10.59],"nice":false,"zero":false}},"y2":{"field":"y2"},
  "color":{"field":"p","type":"nominal","legend":null,"scale":{"domain":["A","B"],"range":["#1d9a4e","#050505"]}}}},
{"data":{"name":"syn"},"mark":{"type":"bar","width":12,"xOffset":42,"fill":"#ffcc00","stroke":"#fff6d0","strokeWidth":0.8},
 "encoding":{"x":{"field":"c","type":"nominal","axis":null,"scale":{"type":"point","domain":["chr1","chr2","chr3","chr4","chr5","Unmapped"],"range":[97,668.3],"padding":0}},
  "y":{"field":"y","type":"quantitative","axis":null,"scale":{"domain":[-0.386,10.59],"nice":false,"zero":false}},"y2":{"field":"y2"}}},
{"data":{"name":"hist"},"mark":{"type":"tick","orient":"horizontal","size":12,"thickness":1.8,"xOffset":55,"opacity":1},
 "encoding":{"x":{"field":"c","type":"nominal","axis":null,"scale":{"type":"point","domain":["chr1","chr2","chr3","chr4","chr5","Unmapped"],"range":[97,668.3],"padding":0}},
  "y":{"field":"y","type":"quantitative","axis":null,"scale":{"domain":[-0.386,10.59],"nice":false,"zero":false}},
  "color":{"field":"s","type":"quantitative","legend":null,"scale":{"domain":[0.4,1],"range":["#c4b2e0","#4d2289"]}}}},
{"data":{"name":"labels"},"mark":{"type":"text","align":"right","baseline":"middle","xOffset":-18,"fontSize":14,"color":"#1a1a1a"},
 "encoding":{"x":{"field":"c","type":"nominal","axis":null,"scale":{"type":"point","domain":["chr1","chr2","chr3","chr4","chr5","Unmapped"],"range":[97,668.3],"padding":0}},
  "y":{"field":"y","type":"quantitative","axis":null,"scale":{"domain":[-0.386,10.59],"nice":false,"zero":false}},"text":{"field":"n"}}},
{"data":{"name":"chrs"},"transform":[{"filter":"datum.c!=='Unmapped'"}],"mark":{"type":"text","align":"center","baseline":"middle","fontSize":15,"color":"#1a1a1a"},
 "encoding":{"x":{"field":"c","type":"nominal","axis":null,"scale":{"type":"point","domain":["chr1","chr2","chr3","chr4","chr5","Unmapped"],"range":[97,668.3],"padding":0}},
  "y":{"datum":-0.221,"type":"quantitative","axis":null,"scale":{"domain":[-0.386,10.59],"nice":false,"zero":false}},"text":{"field":"c"}}},
{"data":{"name":"chrs"},"transform":[{"filter":"datum.c==='Unmapped'"}],"mark":{"type":"text","align":"center","baseline":"middle","fontSize":15,"xOffset":29,"color":"#1a1a1a"},
 "encoding":{"x":{"field":"c","type":"nominal","axis":null,"scale":{"type":"point","domain":["chr1","chr2","chr3","chr4","chr5","Unmapped"],"range":[97,668.3],"padding":0}},
  "y":{"datum":-0.221,"type":"quantitative","axis":null,"scale":{"domain":[-0.386,10.59],"nice":false,"zero":false}},"text":{"field":"c"}}},

{"data":{"values":[{}]},"mark":{"type":"rect","color":"#000000"},
 "encoding":{"x":{"datum":12.5,"type":"quantitative","axis":null,"scale":{"domain":[0,749],"nice":false,"zero":false}},"x2":{"datum":14.5},
  "y":{"datum":0.99,"type":"quantitative","axis":null,"scale":{"domain":[-0.386,10.59],"nice":false,"zero":false}},"y2":{"datum":10.01}}},
{"data":{"name":"scale"},"mark":{"type":"rule","strokeWidth":2,"color":"#000000"},
 "encoding":{"x":{"datum":10,"type":"quantitative","axis":null,"scale":{"domain":[0,749],"nice":false,"zero":false}},"x2":{"datum":17.5},
  "y":{"field":"y","type":"quantitative","axis":null,"scale":{"domain":[-0.386,10.59],"nice":false,"zero":false}}}},
{"data":{"name":"scale"},"mark":{"type":"text","align":"left","baseline":"middle","fontSize":14,"color":"#1a1a1a"},
 "encoding":{"x":{"datum":18.5,"type":"quantitative","axis":null,"scale":{"domain":[0,749],"nice":false,"zero":false}},
  "y":{"field":"y","type":"quantitative","axis":null,"scale":{"domain":[-0.386,10.59],"nice":false,"zero":false}},"text":{"field":"y"}}},
{"data":{"values":[{}]},"mark":{"type":"text","align":"center","baseline":"middle","fontSize":14,"color":"#1a1a1a","text":"mb"},
 "encoding":{"x":{"datum":14.5,"type":"quantitative","axis":null,"scale":{"domain":[0,749],"nice":false,"zero":false}},
  "y":{"datum":0.739,"type":"quantitative","axis":null,"scale":{"domain":[-0.386,10.59],"nice":false,"zero":false}}}},

{"data":{"values":[{}]},"mark":{"type":"rect","fill":"#1e9650"},
 "encoding":{"x":{"datum":498.3,"type":"quantitative","axis":null,"scale":{"domain":[0,749],"nice":false,"zero":false}},"x2":{"datum":525},"y":{"datum":9.89,"type":"quantitative","axis":null,"scale":{"domain":[-0.386,10.59],"nice":false,"zero":false}},"y2":{"datum":9.712}}},
{"data":{"values":[{}]},"mark":{"type":"rect","fill":"#000000"},
 "encoding":{"x":{"datum":498.3,"type":"quantitative","axis":null,"scale":{"domain":[0,749],"nice":false,"zero":false}},"x2":{"datum":525},"y":{"datum":9.712,"type":"quantitative","axis":null,"scale":{"domain":[-0.386,10.59],"nice":false,"zero":false}},"y2":{"datum":9.516}}},
{"data":{"values":[{}]},"mark":{"type":"rect","filled":false,"stroke":"#000000","strokeWidth":1.5},
 "encoding":{"x":{"datum":498.3,"type":"quantitative","axis":null,"scale":{"domain":[0,749],"nice":false,"zero":false}},"x2":{"datum":525},"y":{"datum":9.89,"type":"quantitative","axis":null,"scale":{"domain":[-0.386,10.59],"nice":false,"zero":false}},"y2":{"datum":9.516}}},
{"data":{"values":[{}]},"mark":{"type":"rect","fill":"#2d4aa0","stroke":"#000000","strokeWidth":1.5},
 "encoding":{"x":{"datum":498.3,"type":"quantitative","axis":null,"scale":{"domain":[0,749],"nice":false,"zero":false}},"x2":{"datum":525},"y":{"datum":9.424,"type":"quantitative","axis":null,"scale":{"domain":[-0.386,10.59],"nice":false,"zero":false}},"y2":{"datum":9.071}}},
{"data":{"values":[{}]},"mark":{"type":"rect","fill":"#dc2a2e","stroke":"#000000","strokeWidth":1.5},
 "encoding":{"x":{"datum":498.3,"type":"quantitative","axis":null,"scale":{"domain":[0,749],"nice":false,"zero":false}},"x2":{"datum":525},"y":{"datum":9.071,"type":"quantitative","axis":null,"scale":{"domain":[-0.386,10.59],"nice":false,"zero":false}},"y2":{"datum":8.714}}},
{"data":{"values":[{}]},"mark":{"type":"rect","fill":"#f2ca3c","stroke":"#000000","strokeWidth":1.5},
 "encoding":{"x":{"datum":498.3,"type":"quantitative","axis":null,"scale":{"domain":[0,749],"nice":false,"zero":false}},"x2":{"datum":525},"y":{"datum":8.714,"type":"quantitative","axis":null,"scale":{"domain":[-0.386,10.59],"nice":false,"zero":false}},"y2":{"datum":8.358}}},
{"data":{"values":[{}]},"mark":{"type":"rect","fill":"#4b2a86","stroke":"#000000","strokeWidth":1.5},
 "encoding":{"x":{"datum":498.3,"type":"quantitative","axis":null,"scale":{"domain":[0,749],"nice":false,"zero":false}},"x2":{"datum":525},"y":{"datum":8.358,"type":"quantitative","axis":null,"scale":{"domain":[-0.386,10.59],"nice":false,"zero":false}},"y2":{"datum":8.001}}},
{"data":{"values":[{}]},"mark":{"type":"text","align":"left","baseline":"middle","fontSize":15,"color":"#1a1a1a","text":"Scaffolds"},
 "encoding":{"x":{"datum":536.7,"type":"quantitative","axis":null,"scale":{"domain":[0,749],"nice":false,"zero":false}},"y":{"datum":9.708,"type":"quantitative","axis":null,"scale":{"domain":[-0.386,10.59],"nice":false,"zero":false}}}},
{"data":{"values":[{}]},"mark":{"type":"text","align":"left","baseline":"middle","fontSize":15,"color":"#1a1a1a","text":"Gene frequency"},
 "encoding":{"x":{"datum":536.7,"type":"quantitative","axis":null,"scale":{"domain":[0,749],"nice":false,"zero":false}},"y":{"datum":9.255,"type":"quantitative","axis":null,"scale":{"domain":[-0.386,10.59],"nice":false,"zero":false}}}},
{"data":{"values":[{}]},"mark":{"type":"text","align":"left","baseline":"middle","fontSize":15,"color":"#1a1a1a","text":"Transposon frequency"},
 "encoding":{"x":{"datum":536.7,"type":"quantitative","axis":null,"scale":{"domain":[0,749],"nice":false,"zero":false}},"y":{"datum":8.907,"type":"quantitative","axis":null,"scale":{"domain":[-0.386,10.59],"nice":false,"zero":false}}}},
{"data":{"values":[{}]},"mark":{"type":"text","align":"left","baseline":"middle","fontSize":15,"color":"#1a1a1a","text":"Syntenic to"},
 "encoding":{"x":{"datum":536.7,"type":"quantitative","axis":null,"scale":{"domain":[0,749],"nice":false,"zero":false}},"y":{"datum":8.555,"type":"quantitative","axis":null,"scale":{"domain":[-0.386,10.59],"nice":false,"zero":false}}}},
{"data":{"values":[{}]},"mark":{"type":"text","align":"left","baseline":"middle","fontSize":15,"fontStyle":"italic","color":"#1a1a1a","text":"P. lutzii"},
 "encoding":{"x":{"datum":617.5,"type":"quantitative","axis":null,"scale":{"domain":[0,749],"nice":false,"zero":false}},"y":{"datum":8.555,"type":"quantitative","axis":null,"scale":{"domain":[-0.386,10.59],"nice":false,"zero":false}}}},
{"data":{"values":[{}]},"mark":{"type":"text","align":"left","baseline":"middle","fontSize":15,"color":"#1a1a1a","text":"Syntenic to"},
 "encoding":{"x":{"datum":536.7,"type":"quantitative","axis":null,"scale":{"domain":[0,749],"nice":false,"zero":false}},"y":{"datum":8.203,"type":"quantitative","axis":null,"scale":{"domain":[-0.386,10.59],"nice":false,"zero":false}}}},
{"data":{"values":[{}]},"mark":{"type":"text","align":"left","baseline":"middle","fontSize":15,"fontStyle":"italic","color":"#1a1a1a","text":"Histoplasma"},
 "encoding":{"x":{"datum":617.5,"type":"quantitative","axis":null,"scale":{"domain":[0,749],"nice":false,"zero":false}},"y":{"datum":8.203,"type":"quantitative","axis":null,"scale":{"domain":[-0.386,10.59],"nice":false,"zero":false}}}}
],
"resolve":{"scale":{"x":"independent","color":"independent","size":"independent"}}
}
